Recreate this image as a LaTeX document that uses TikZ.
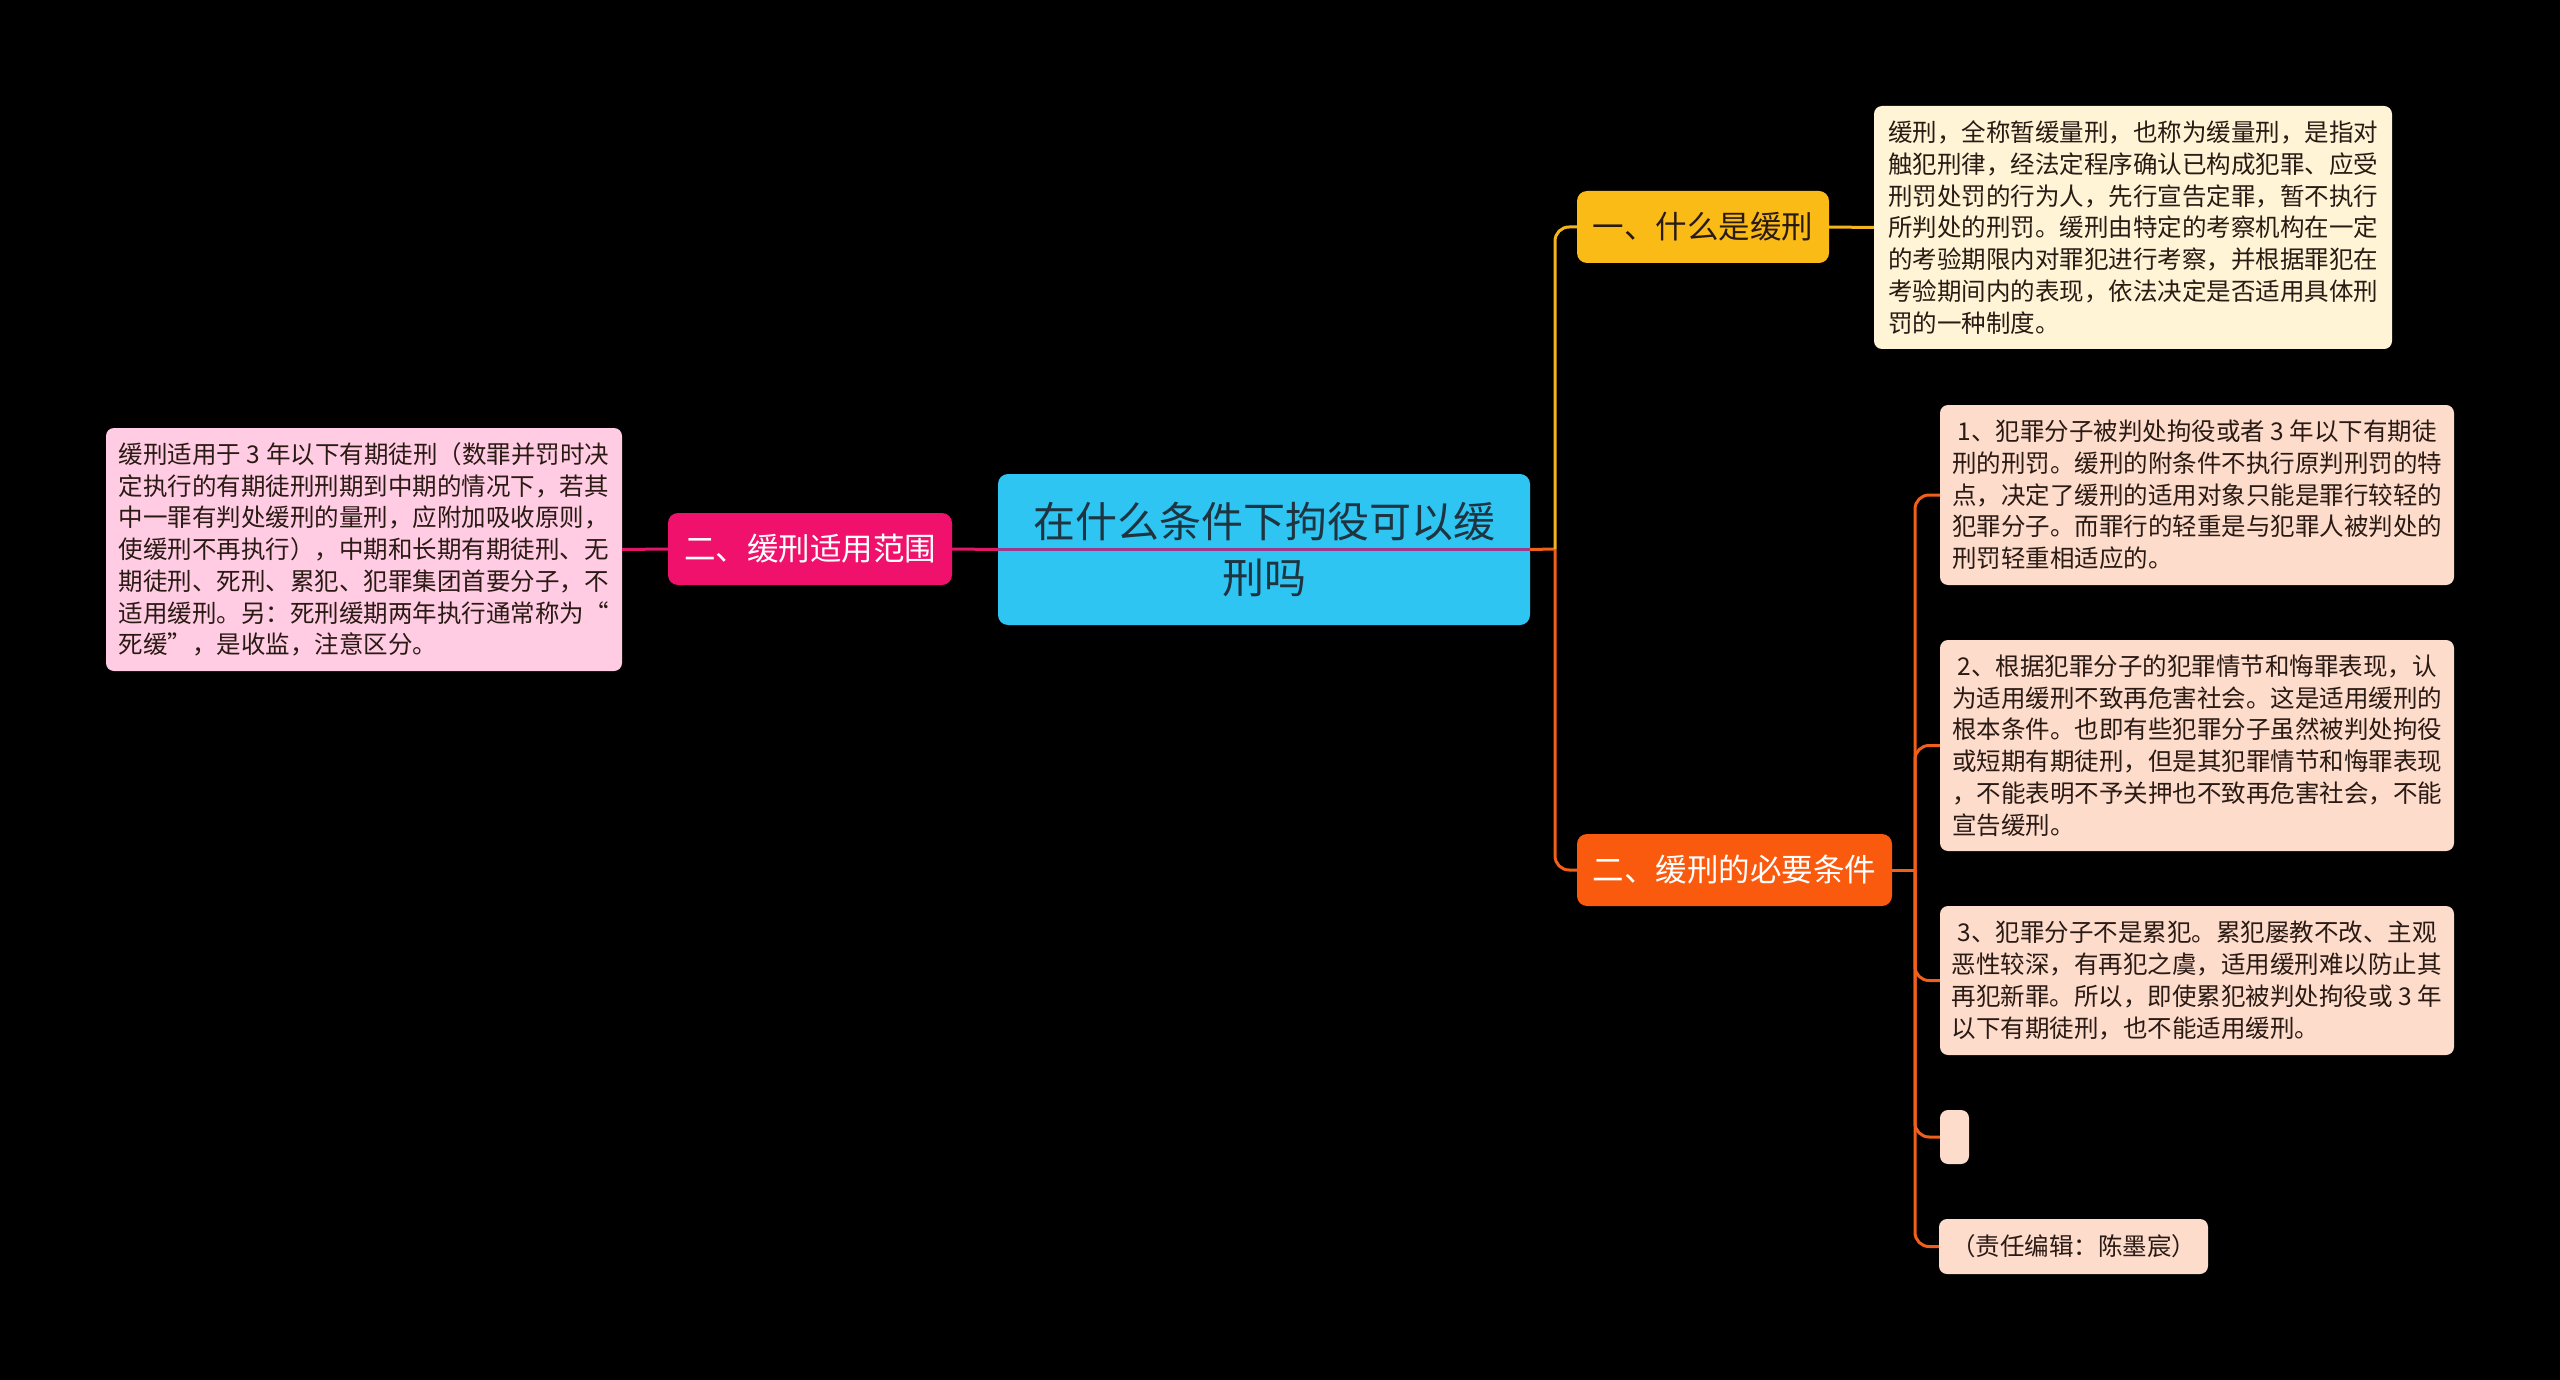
\documentclass[tikz,border=0pt]{standalone}
\usepackage{fontspec}
\setmainfont{Noto Sans CJK SC}
\usepackage{tikz}
\usetikzlibrary{positioning}
\definecolor{ctrblue}{HTML}{2FC5F3}
\definecolor{ctrtext}{HTML}{1E3440}
\definecolor{crossp}{HTML}{9C3A8E}
\definecolor{magnode}{HTML}{F0116C}
\definecolor{magleaf}{HTML}{FFCCE3}
\definecolor{magline}{HTML}{E0186A}
\definecolor{ylnode}{HTML}{FBBB17}
\definecolor{ylleaf}{HTML}{FFF4D6}
\definecolor{ylline}{HTML}{F2B51E}
\definecolor{ornode}{HTML}{FA5A0E}
\definecolor{orleaf}{HTML}{FDDCCB}
\definecolor{orline}{HTML}{F0601A}
\definecolor{leaftext}{HTML}{2A1A14}

\begin{document}
\begin{tikzpicture}[
    x=1pt,
    y=-1pt,
    topic/.style={rounded corners=10pt, inner sep=0pt, align=center,
      font=\fontsize{31.5}{38}\selectfont},
    centre/.style={rounded corners=10pt, fill=ctrblue, text=ctrtext,
      inner sep=0pt, align=center, font=\fontsize{42}{55.5}\selectfont},
    leaf/.style={rounded corners=8pt, inner sep=0pt, align=left,
      text=leaftext, font=\fontsize{24.5}{31.7}\selectfont},
    lineM/.style={draw=magline, line width=3pt},
    lineY/.style={draw=ylline, line width=3pt, rounded corners=14pt},
    lineO/.style={draw=orline, line width=3pt, rounded corners=14pt}
  ]
    % background, 2560 x 1380 px
    \fill[black] (0,0) rectangle (2560,1380);

    % centre topic
    \node[centre, minimum width=532, minimum height=151] (ctr) at (1264,549.5)
      {在什么条件下拘役可以缓\\刑吗};

    % left branch
    \node[topic, fill=magnode, text=white, minimum width=284, minimum height=72]
      (scope) at (810,549) {二、缓刑适用范围};
    \node[leaf, fill=magleaf, minimum width=516, minimum height=243]
      (scopeleaf) at (364,549.5)
      {缓刑适用于 3 年以下有期徒刑（数罪并罚时决\\
       定执行的有期徒刑刑期到中期的情况下，若其\\
       中一罪有判处缓刑的量刑，应附加吸收原则，\\
       使缓刑不再执行），中期和长期有期徒刑、无\\
       期徒刑、死刑、累犯、犯罪集团首要分子，不\\
       适用缓刑。另：死刑缓期两年执行通常称为“\\
       死缓”，是收监，注意区分。};

    % right branch, upper
    \node[topic, fill=ylnode, text=leaftext, minimum width=252, minimum height=72]
      (what) at (1703,227) {一、什么是缓刑};
    \node[leaf, fill=ylleaf, minimum width=518, minimum height=243]
      (whatleaf) at (2133,227.5)
      {缓刑，全称暂缓量刑，也称为缓量刑，是指对\\
       触犯刑律，经法定程序确认已构成犯罪、应受\\
       刑罚处罚的行为人，先行宣告定罪，暂不执行\\
       所判处的刑罚。缓刑由特定的考察机构在一定\\
       的考验期限内对罪犯进行考察，并根据罪犯在\\
       考验期间内的表现，依法决定是否适用具体刑\\
       罚的一种制度。};

    % right branch, lower
    \node[topic, fill=ornode, text=white, minimum width=315, minimum height=72]
      (cond) at (1734.5,870) {二、缓刑的必要条件};
    \node[leaf, fill=orleaf, minimum width=514, minimum height=180]
      (condA) at (2197,495)
      {\ 1、犯罪分子被判处拘役或者 3 年以下有期徒\\
       刑的刑罚。缓刑的附条件不执行原判刑罚的特\\
       点，决定了缓刑的适用对象只能是罪行较轻的\\
       犯罪分子。而罪行的轻重是与犯罪人被判处的\\
       刑罚轻重相适应的。};
    \node[leaf, fill=orleaf, minimum width=514, minimum height=211]
      (condB) at (2197,745.5)
      {\ 2、根据犯罪分子的犯罪情节和悔罪表现，认\\
       为适用缓刑不致再危害社会。这是适用缓刑的\\
       根本条件。也即有些犯罪分子虽然被判处拘役\\
       或短期有期徒刑，但是其犯罪情节和悔罪表现\\
       ，不能表明不予关押也不致再危害社会，不能\\
       宣告缓刑。};
    \node[leaf, fill=orleaf, minimum width=514, minimum height=149]
      (condC) at (2197,980.5)
      {\ 3、犯罪分子不是累犯。累犯屡教不改、主观\\
       恶性较深，有再犯之虞，适用缓刑难以防止其\\
       再犯新罪。所以，即使累犯被判处拘役或 3 年\\
       以下有期徒刑，也不能适用缓刑。};
    \node[leaf, fill=orleaf, minimum width=29, minimum height=54]
      (condD) at (1954.5,1137) {};
    \node[leaf, fill=orleaf, align=center, minimum width=269, minimum height=55]
      (condE) at (2073.5,1246.5) {（责任编辑：陈墨宸）};

    % connectors
    \coordinate (jr) at (1555,549);
    \coordinate (jc) at (1915,870);
    \draw[lineM] (scopeleaf.east) -- (scope.west);
    \draw[lineM] (scope.east) -- (ctr.west);
    \draw[lineM, draw=crossp] (ctr.west) -- (ctr.east);
    \draw[lineO] (ctr.east) -- (jr);
    \draw[lineY] (jr) |- (what.west);
    \draw[lineO] (jr) |- (cond.west);
    \draw[ylline, line width=3pt] (what.east) -- (whatleaf.west);
    \draw[lineO] (cond.east) -- (jc);
    \foreach \leafname in {condA,condB,condC,condD,condE}
      \draw[lineO] (jc) |- (\leafname.west);
  \end{tikzpicture}
\end{document}
